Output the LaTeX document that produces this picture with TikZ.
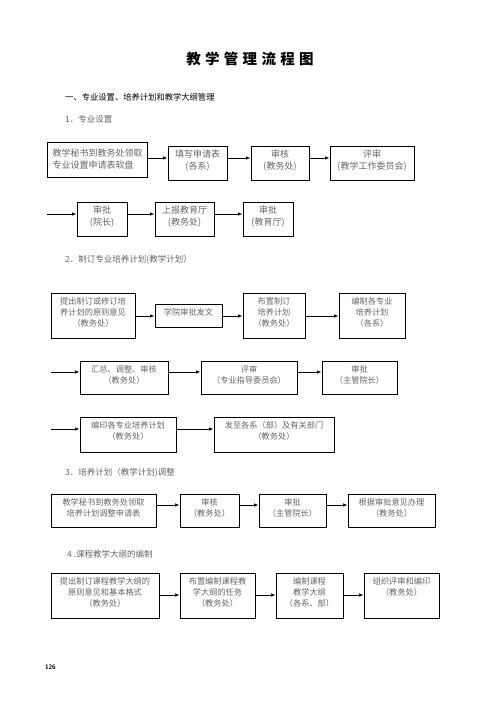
\documentclass[tikz,border=0pt]{standalone}
\usepackage{fontspec}
\setmainfont{Liberation Serif}
\newfontfamily\cjk{Noto Sans CJK SC}
\usetikzlibrary{arrows.meta}
\definecolor{txt}{gray}{0.4}
\tikzset{
 bx/.style={draw=black, line width=1pt, inner sep=0pt},
 lbl/.style={anchor=north, align=center, inner sep=0pt, text=txt, font=\cjk\fontsize{8.2}{11}\selectfont, yshift=-4.5pt},
 lblA/.style={lbl, font=\cjk\fontsize{9}{11.5}\selectfont},
 arr/.style={-{Latex[length=4.5pt,width=3.6pt]}, line width=1pt},
 head/.style={anchor=west, inner sep=0pt, text=txt, font=\cjk\fontsize{8.5}{10}\selectfont},
}
\newcommand\mkbox[7][lbl]{\node[bx, minimum width={(#4-#2)*1pt}, minimum height={(#5-#3)*1pt}, label={[#1]north:{#7}}] (#6) at ({(#2+#4)/2},{(#3+#5)/2}) {};}
\begin{document}
\begin{tikzpicture}[x=1pt,y=-1pt]
\useasboundingbox (0,0) rectangle (496,702);
% title and headings
\node[font=\cjk\bfseries\fontsize{14.5}{14.5}\selectfont, inner sep=0pt] (title) at (250,59) {教\hskip4.3pt 学\hskip4.3pt 管\hskip4.3pt 理\hskip4.3pt 流\hskip4.3pt 程\hskip4.3pt 图};
\node[head, text=black, font=\cjk\fontsize{8.3}{10}\selectfont] (h0) at (65,97) {一、专业设置、培养计划和教学大纲管理};
\node[head] (h1) at (65,119) {1．专业设置};
\node[head] (h2) at (65,260) {2．制订专业培养计划(教学计划）};
\node[head] (h3) at (65,473) {3．培养计划（教学计划)调整};
\node[head] (h4) at (67,554) {4 .课程教学大纲的编制};
\node[anchor=west, inner sep=0pt, font=\fontsize{7}{8}\selectfont\bfseries] (pg) at (45,667) {126};
% section 1
\node[bx, minimum width=100pt, minimum height=35pt, label={[lblA, anchor=north west, align=left, xshift=6pt, yshift=-3pt]north west:{教学秘书到教务处领取\\专业设置申请表软盘}}] (a1) at (97,159.5) {};
\mkbox[lblA]{168}{146}{227}{180}{a2}{填写申请表\\(各系)}
\mkbox[lblA]{251}{146}{309}{180}{a3}{审核\\(教务处)}
\mkbox[lblA]{330}{146}{414}{180}{a4}{评审\\(教学工作委员会)}
\draw[arr] (a1.east |- 0,158) -- (a2.west |- 0,158);
\draw[arr] (a2.east |- 0,158) -- (a3.west |- 0,158);
\draw[arr] (a3.east |- 0,158) -- (a4.west |- 0,158);
\coordinate (s1) at (47,214);
\mkbox[lblA]{77}{202}{127}{236}{a5}{审批\\(院长)}
\mkbox[lblA]{155}{202}{214}{236}{a6}{上报教育厅\\(教务处)}
\mkbox[lblA]{243}{202}{293}{236}{a7}{审批\\(教育厅)}
\draw[arr] (s1) -- (a5.west |- s1);
\draw[arr] (a5.east |- s1) -- (a6.west |- s1);
\draw[arr] (a6.east |- s1) -- (a7.west |- s1);
% section 2
\mkbox{51}{293}{135}{338}{b1}{提出制订或修订培\\养计划的原则意见\\（教务处）}
\mkbox[lbl, yshift=-0.5pt]{155}{304}{222}{327}{b2}{学院审批发文}
\mkbox{243}{293}{305}{338}{b3}{布置制订\\培养计划\\（教务处）}
\mkbox{339}{293}{405}{338}{b4}{编制各专业\\培养计划\\（各系）}
\draw[arr] (b1.east |- 0,316) -- (b2.west |- 0,316);
\draw[arr] (b2.east |- 0,316) -- (b3.west |- 0,316);
\draw[arr] (b3.east |- 0,316) -- (b4.west |- 0,316);
\coordinate (s2) at (51,372);
\mkbox{80}{361}{168}{394}{c1}{汇总、调整、审核\\（教务处）}
\mkbox{201}{361}{297}{394}{c2}{评审\\（专业指导委员会）}
\mkbox{322}{361}{397}{394}{c3}{审批\\（主管院长）}
\draw[arr] (s2) -- (c1.west |- s2);
\draw[arr] (c1.east |- s2) -- (c2.west |- s2);
\draw[arr] (c2.east |- s2) -- (c3.west |- s2);
\coordinate (s3) at (51,429);
\mkbox{80}{417}{176}{452}{d1}{编印各专业培养计划\\（教务处）}
\mkbox{214}{417}{334}{452}{d2}{发至各系（部）及有关部门\\（教务处）}
\draw[arr] (s3) -- (d1.west |- s3);
\draw[arr] (d1.east |- s3) -- (d2.west |- s3);
% section 3
\mkbox{51}{494}{156}{527}{e1}{教学秘书到教务处领取\\培养计划调整申请表}
\mkbox{180}{494}{239}{527}{e2}{审核\\（教务处）}
\mkbox{259}{494}{326}{527}{e3}{审批\\（主管院长）}
\mkbox{348}{494}{435}{527}{e4}{根据审批意见办理\\（教务处）}
\draw[arr] (e1.east |- 0,505) -- (e2.west |- 0,505);
\draw[arr] (e2.east |- 0,505) -- (e3.west |- 0,505);
\draw[arr] (e3.east |- 0,505) -- (e4.west |- 0,505);
% section 4
\mkbox{51}{573}{159}{618}{f1}{提出制订课程教学大纲的\\原则意见和基本格式\\（教务处）}
\mkbox{180}{573}{255}{618}{f2}{布置编制课程教\\学大纲的任务\\（教务处）}
\mkbox{276}{573}{343}{618}{f3}{编制课程\\教学大纲\\（各系、部）}
\mkbox{364}{573}{439}{618}{f4}{组织评审和编印\\（教务处）}
\draw[arr] (f1.east |- 0,595) -- (f2.west |- 0,595);
\draw[arr] (f2.east |- 0,595) -- (f3.west |- 0,595);
\draw[arr] (f3.east |- 0,595) -- (f4.west |- 0,595);
\end{tikzpicture}
\end{document}
